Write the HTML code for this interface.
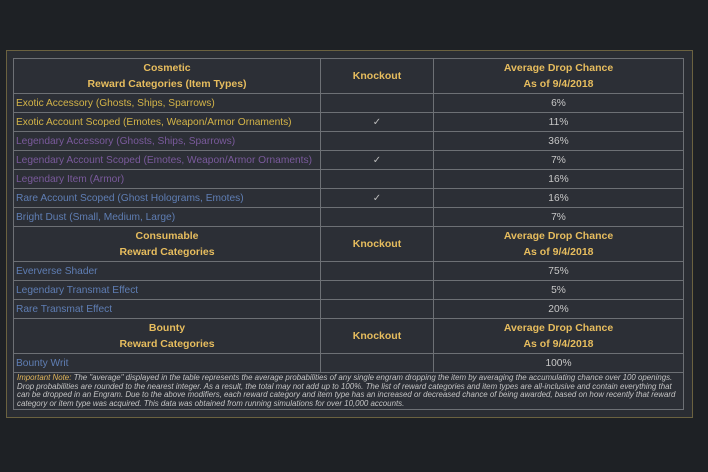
<!DOCTYPE html>
<html><head><meta charset="utf-8"><style>
body{margin:0;width:708px;height:472px;background:#1e2125;font-family:"Liberation Sans",Arial,sans-serif;overflow:hidden;position:relative}
#panel{position:absolute;left:6px;top:50px;width:685px;height:366px;background:#2a2d33;border:1px solid #6b6240}
table{position:absolute;left:13px;top:58px;width:670px;border-collapse:collapse;table-layout:fixed}
td{border:1px solid #6d7075;background:#2c2f36;height:18px;padding:0 2px;font-size:10.2px;white-space:nowrap;color:#c8c8c8;overflow:hidden}
td.h{height:34px;text-align:center;font-weight:bold;color:#e7bd5e;line-height:16px;font-size:10.5px}
.c{text-align:center}
.ex{color:#d4b448}.lg{color:#7a5a9c}.ra{color:#5f7eb4}.ck{color:#bbb}
td.note{height:30px;font-size:7.9px;font-style:italic;white-space:normal;line-height:8.6px;color:#c4c4c4;padding:1px 3px}
.note b{color:#e2b65a;font-weight:normal}
</style></head><body>
<div id="panel"></div>
<table>
<colgroup><col style="width:307px"><col style="width:113px"><col style="width:250px"></colgroup>
<tr><td class="h">Cosmetic<br>Reward Categories (Item Types)</td><td class="h">Knockout</td><td class="h">Average Drop Chance<br>As of 9/4/2018</td></tr>
<tr><td class="ex">Exotic Accessory (Ghosts, Ships, Sparrows)</td><td></td><td class="c">6%</td></tr>
<tr><td class="ex">Exotic Account Scoped (Emotes, Weapon/Armor Ornaments)</td><td class="c ck">✓</td><td class="c">11%</td></tr>
<tr><td class="lg">Legendary Accessory (Ghosts, Ships, Sparrows)</td><td></td><td class="c">36%</td></tr>
<tr><td class="lg">Legendary Account Scoped (Emotes, Weapon/Armor Ornaments)</td><td class="c ck">✓</td><td class="c">7%</td></tr>
<tr><td class="lg">Legendary Item (Armor)</td><td></td><td class="c">16%</td></tr>
<tr><td class="ra">Rare Account Scoped (Ghost Holograms, Emotes)</td><td class="c ck">✓</td><td class="c">16%</td></tr>
<tr><td class="ra">Bright Dust (Small, Medium, Large)</td><td></td><td class="c">7%</td></tr>
<tr><td class="h">Consumable<br>Reward Categories</td><td class="h">Knockout</td><td class="h">Average Drop Chance<br>As of 9/4/2018</td></tr>
<tr><td class="ra">Eververse Shader</td><td></td><td class="c">75%</td></tr>
<tr><td class="ra">Legendary Transmat Effect</td><td></td><td class="c">5%</td></tr>
<tr><td class="ra">Rare Transmat Effect</td><td></td><td class="c">20%</td></tr>
<tr><td class="h">Bounty<br>Reward Categories</td><td class="h">Knockout</td><td class="h">Average Drop Chance<br>As of 9/4/2018</td></tr>
<tr><td class="ra">Bounty Writ</td><td></td><td class="c">100%</td></tr>
<tr><td colspan="3" class="note"><b>Important Note:</b> The "average" displayed in the table represents the average probabilities of any single engram dropping the item by averaging the accumulating chance over 100 openings. Drop probabilities are rounded to the nearest integer. As a result, the total may not add up to 100%. The list of reward categories and item types are all-inclusive and contain everything that can be dropped in an Engram. Due to the above modifiers, each reward category and item type has an increased or decreased chance of being awarded, based on how recently that reward category or item type was acquired. This data was obtained from running simulations for over 10,000 accounts.</td></tr>
</table>
</body></html>
